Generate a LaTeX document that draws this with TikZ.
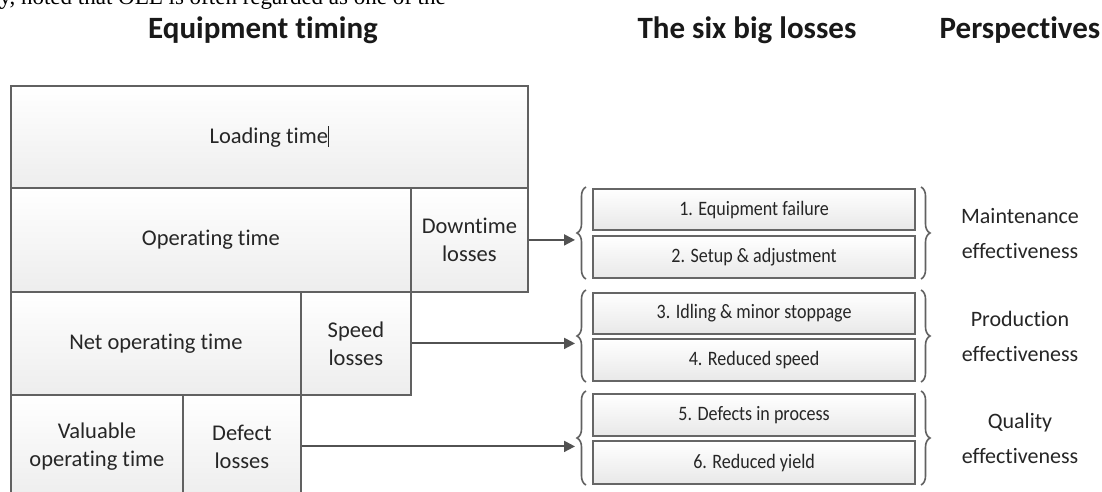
\documentclass[tikz,border=0pt]{standalone}
\usepackage{fontspec}
\setmainfont{Carlito}[Ligatures=NoCommon]
\newfontfamily\serifcut{Liberation Serif}
\newfontfamily\narrowcal{Carlito}[Ligatures=NoCommon, FakeStretch=0.88]
\usetikzlibrary{decorations.pathreplacing,arrows.meta}
\begin{document}
\begin{tikzpicture}[x=1pt,y=-1pt,
  lbox/.style={draw=black!62, line width=1.8pt, top color=white, bottom color=black!7, inner sep=0pt, anchor=north west, align=center, text=black!85, font=\fontsize{22.5}{28}\selectfont},
  rbox/.style={draw=black!60, line width=2.2pt, top color=white, bottom color=black!9, inner sep=0pt, anchor=north west, minimum width=322pt, text=black!85, font=\narrowcal\fontsize{20.5}{22}\selectfont},
  hdr/.style={anchor=base, font=\bfseries\fontsize{31}{36}\selectfont, text=black!90},
  persp/.style={align=center, text=black!85, font=\fontsize{22}{35}\selectfont},
  arr/.style={draw=black!68, line width=2pt, -{Triangle[length=11pt,width=11pt]}},
  brc/.style={draw=black!62, line width=1.6pt, decorate, decoration={brace, amplitude=9pt}}
]
\useasboundingbox (0,0) rectangle (1102,491);
\clip (0,0) rectangle (1102,491);
\fill[white] (0,0) rectangle (1102,491);

% cut-off line of the page above
\node[anchor=base east, inner sep=0pt, font=\serifcut\fontsize{23}{23}\selectfont] (cut) at (446,4) {y, noted that OEE is often regarded as one of the};

% headers
\node[hdr] (h1) at (263,38) {Equipment timing};
\node[hdr] (h2) at (747,38) {The six big losses};
\node[hdr] (h3) at (1020,38) {Perspectives};

% equipment timing blocks
\node[lbox, minimum width=517pt, minimum height=102pt] (load) at (10,85) {Loading time\rule[-3pt]{1.2pt}{21pt}};
\node[lbox, minimum width=400pt, minimum height=104pt] (oper) at (10,187) {Operating time};
\node[lbox, minimum width=117pt, minimum height=104pt] (down) at (410,187) {Downtime\\losses};
\node[lbox, minimum width=290pt, minimum height=103pt] (net) at (10,291) {Net operating time};
\node[lbox, minimum width=110pt, minimum height=103pt] (speed) at (300,291) {Speed\\losses};
\node[lbox, minimum width=172pt, minimum height=103pt] (valu) at (10,394) {Valuable\\operating time};
\node[lbox, minimum width=118pt, minimum height=103pt] (defect) at (182,394) {Defect\\losses};

% six big losses
\node[rbox, minimum height=41pt] (r1) at (592,188) {1. Equipment failure};
\node[rbox, minimum height=42pt] (r2) at (592,235) {2. Setup \& adjustment};
\node[rbox, minimum height=41pt] (r3) at (592,292) {3. Idling \& minor stoppage};
\node[rbox, minimum height=42pt] (r4) at (592,338) {4. Reduced speed};
\node[rbox, minimum height=42pt] (r5) at (592,393) {5. Defects in process};
\node[rbox, minimum height=43pt] (r6) at (592,440) {6. Reduced yield};

% braces
\coordinate (lb1a) at (586,279); \coordinate (lb1b) at (586,187);
\coordinate (lb2a) at (586,382); \coordinate (lb2b) at (586,290);
\coordinate (lb3a) at (586,485); \coordinate (lb3b) at (586,391);
\coordinate (rb1a) at (921,187); \coordinate (rb1b) at (921,279);
\coordinate (rb2a) at (921,290); \coordinate (rb2b) at (921,382);
\coordinate (rb3a) at (921,391); \coordinate (rb3b) at (921,485);
\draw[brc] (lb1a) -- (lb1b);
\draw[brc] (lb2a) -- (lb2b);
\draw[brc] (lb3a) -- (lb3b);
\draw[brc] (rb1a) -- (rb1b);
\draw[brc] (rb2a) -- (rb2b);
\draw[brc] (rb3a) -- (rb3b);

% arrows
\coordinate (tipx) at (575,0);
\draw[arr] (down.east) -- (down.east -| tipx);
\draw[arr] (speed.east) -- (speed.east -| tipx);
\draw[arr] (defect.east) -- (defect.east -| tipx);

% perspectives
\node[persp] (p1) at (1020,234) {Maintenance\\effectiveness};
\node[persp] (p2) at (1020,336) {Production\\effectiveness};
\node[persp] (p3) at (1020,438) {Quality\\effectiveness};
\end{tikzpicture}
\end{document}
